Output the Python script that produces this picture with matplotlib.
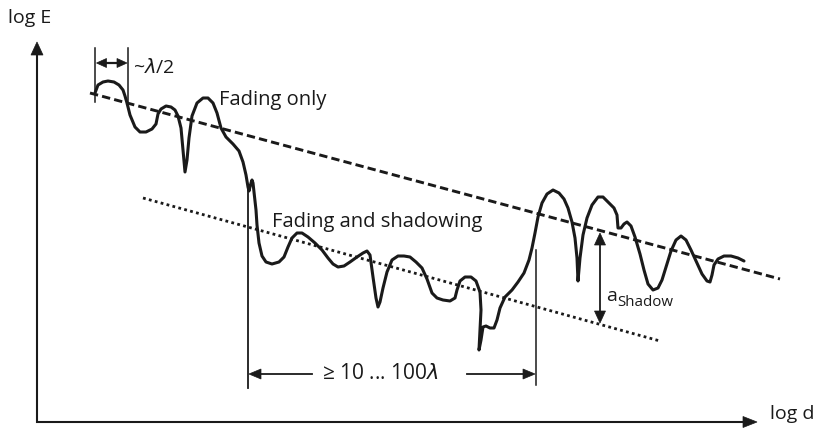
import matplotlib
matplotlib.use("Agg")
import matplotlib.pyplot as plt
from matplotlib.patches import Polygon

plt.rcParams["font.family"] = ["Open Sans", "DejaVu Sans"]
plt.rcParams["lines.scale_dashes"] = False
plt.rcParams["mathtext.fontset"] = "dejavusans"

# Received field strength trace (log d -> log E), in drawing units
signal_x = [95, 98, 103, 108, 114, 119, 123, 125, 127, 130, 135, 140, 146, 152, 156, 158, 161, 166, 171,
            175, 178, 181, 183, 185, 187, 189, 192, 197, 203, 208, 213, 217, 221, 226, 233, 239, 243, 246,
            248, 249, 251, 252, 253, 254, 256, 257, 259, 262, 266, 272, 279, 284, 288, 292, 297, 302, 308,
            315, 322, 328, 333, 338, 344, 350, 357, 363, 367, 370, 373, 376, 378, 380, 383, 387, 392, 398,
            404, 410, 416, 422, 427, 432, 437, 443, 450, 455, 457, 460, 465, 471, 476, 480, 481, 480, 479,
            481, 483, 486, 490, 494, 497, 500, 505, 512, 518, 524, 529, 532, 535, 538, 542, 547, 553, 559,
            564, 568, 572, 575, 577, 578, 580, 583, 587, 592, 598, 603, 608, 614, 617, 618, 621, 624, 627,
            631, 635, 640, 644, 648, 653, 658, 662, 666, 671, 676, 681, 686, 691, 697, 702, 707, 710, 712,
            714, 718, 724, 731, 738, 744]
signal_y = [93, 85, 82, 81, 82, 85, 90, 96, 103, 115, 127, 132, 132, 129, 124, 114, 109, 106, 107,
            110, 116, 128, 150, 172, 160, 138, 116, 103, 98, 98, 103, 113, 128, 137, 144, 151, 162, 175,
            187, 191, 183, 180, 183, 192, 210, 225, 243, 256, 262, 264, 262, 257, 247, 238, 233, 233, 237,
            243, 250, 258, 264, 267, 266, 262, 257, 253, 251, 255, 277, 298, 307, 302, 288, 272, 260, 256,
            256, 257, 262, 268, 279, 293, 298, 300, 301, 298, 290, 281, 277, 277, 281, 292, 310, 330, 350,
            340, 327, 326, 328, 328, 320, 308, 297, 290, 282, 273, 260, 248, 233, 217, 203, 194, 190, 193,
            199, 208, 222, 238, 258, 281, 258, 235, 218, 205, 197, 197, 202, 208, 215, 228, 228, 224, 222,
            226, 237, 254, 270, 284, 290, 288, 280, 267, 251, 240, 236, 240, 250, 263, 274, 281, 282, 275,
            265, 259, 256, 256, 258, 261]

# Mean level with fading only (dashed) and with shadowing (dotted)
fading_x = [90, 780]
fading_y = [93, 279]
shadow_x = [143, 660]
shadow_y = [198, 341]

fig = plt.figure(figsize=(8.2, 4.3), dpi=100)
ax = fig.add_axes([0, 0, 1, 1])
ax.set_xlim(0, 820)
ax.set_ylim(430, 0)
ax.axis("off")

K = "#1a1a1a"


def head(tip, direction, length=12, width=10):
    """Filled triangular arrow head at `tip` pointing along `direction`."""
    dx, dy = direction
    n = (dx * dx + dy * dy) ** 0.5
    ux, uy = dx / n, dy / n
    px, py = -uy, ux
    bx, by = tip[0] - ux * length, tip[1] - uy * length
    pts = [tip, (bx + px * width / 2, by + py * width / 2), (bx - px * width / 2, by - py * width / 2)]
    ax.add_patch(Polygon(pts, closed=True, facecolor=K, edgecolor=K, lw=0.5))


# Axes with arrows
ax.plot([37, 37], [423, 50], color=K, lw=1.5, solid_capstyle="butt")
head((37, 42), (0, -1), length=13, width=12)
ax.plot([36.3, 748], [422, 422], color=K, lw=1.5, solid_capstyle="butt")
head((757, 422), (1, 0), length=14, width=11)
ax.text(8, 23, "log E", fontsize=14, color=K, ha="left", va="baseline")
ax.text(770, 419, "log d", fontsize=14, color=K, ha="left", va="baseline")

# Mean lines
ax.plot(fading_x, fading_y, color=K, lw=2.1, linestyle=(0, (6.0, 3.0)), dash_capstyle="butt")
ax.plot(shadow_x, shadow_y, color=K, lw=2.0, linestyle=(0, (2.0, 2.4)), dash_capstyle="butt")

# Signal trace
ax.plot(signal_x, signal_y, color=K, lw=2.2, solid_joinstyle="round", solid_capstyle="round")

# lambda/2 marker
ax.plot([95.5, 95.5], [48, 102], color=K, lw=1.1)
ax.plot([128, 128], [48, 107], color=K, lw=1.1)
ax.plot([105, 119], [63, 63], color=K, lw=1.6)
head((96.5, 63), (-1, 0), length=10, width=9)
head((127, 63), (1, 0), length=10, width=9)
ax.text(133, 73, r"~$\lambda$/2", fontsize=14, color=K, ha="left", va="baseline")

# Shadowing range marker
ax.plot([248, 248], [190, 388], color=K, lw=1.3)
ax.plot([536, 536], [250, 385], color=K, lw=1.1)
ax.plot([258, 312], [374, 374], color=K, lw=1.3)
ax.plot([467, 526], [374, 374], color=K, lw=1.3)
head((249, 374), (-1, 0), length=12, width=10)
head((535, 374), (1, 0), length=12, width=10)
ax.text(322, 379, r"≥ 10 ... 100$\lambda$", fontsize=15, color=K, ha="left", va="baseline")

# Shadowing depth marker
ax.plot([600, 600], [243, 313], color=K, lw=1.3)
head((600, 233), (0, -1), length=12, width=11)
head((600, 323), (0, 1), length=12, width=11)
ax.text(606, 301, "a", fontsize=14, color=K, ha="left", va="baseline")
ax.text(617, 306, "Shadow", fontsize=10.8, color=K, ha="left", va="baseline")

# Labels
ax.text(219, 105, "Fading only", fontsize=14.5, color=K, ha="left", va="baseline")
ax.text(272, 227, "Fading and shadowing", fontsize=14.5, color=K, ha="left", va="baseline")

fig.savefig("out.png", dpi=100, facecolor="white")
